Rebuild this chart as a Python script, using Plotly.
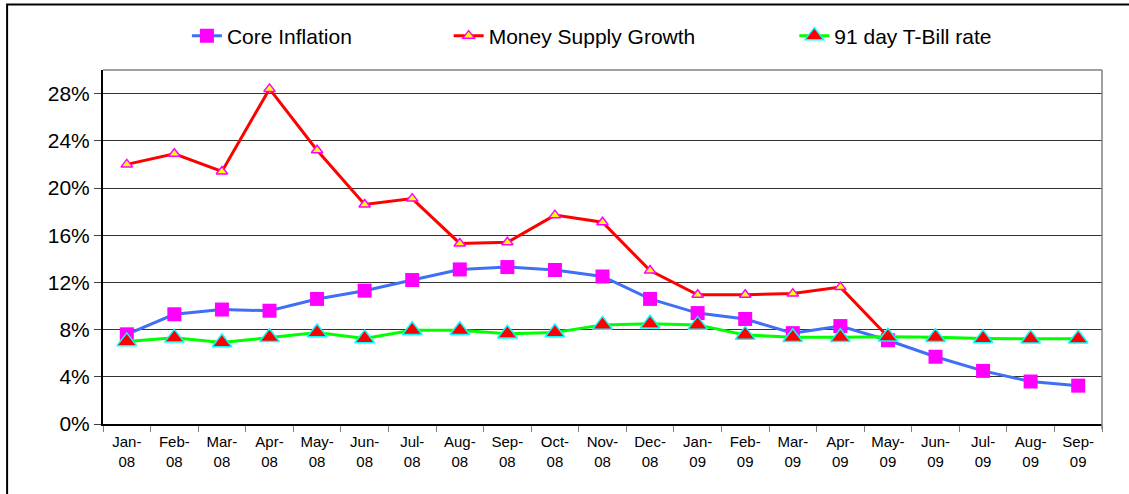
import plotly.graph_objects as go

months = ["Jan-<br>08", "Feb-<br>08", "Mar-<br>08", "Apr-<br>08", "May-<br>08", "Jun-<br>08",
          "Jul-<br>08", "Aug-<br>08", "Sep-<br>08", "Oct-<br>08", "Nov-<br>08", "Dec-<br>08",
          "Jan-<br>09", "Feb-<br>09", "Mar-<br>09", "Apr-<br>09", "May-<br>09", "Jun-<br>09",
          "Jul-<br>09", "Aug-<br>09", "Sep-<br>09"]

core_inflation = [7.6, 9.3, 9.7, 9.6, 10.6, 11.3, 12.2, 13.1, 13.3, 13.05, 12.5, 10.6,
                  9.4, 8.9, 7.7, 8.3, 7.1, 5.7, 4.5, 3.6, 3.25]
money_supply = [22.0, 22.9, 21.4, 28.4, 23.2, 18.6, 19.1, 15.3, 15.4, 17.7, 17.1, 13.0,
                10.95, 10.95, 11.05, 11.6, 7.4, None, None, None, None]
tbill_rate = [7.0, 7.3, 6.9, 7.35, 7.75, 7.25, 7.95, 7.95, 7.65, 7.75, 8.4, 8.5,
              8.4, 7.55, 7.35, 7.35, 7.4, 7.35, 7.25, 7.22, 7.22]

y_ticks = [0, 4, 8, 12, 16, 20, 24, 28]
y_tick_labels = ["0%", "4%", "8%", "12%", "16%", "20%", "24%", "28%"]

font_family = "Liberation Sans, Arial, sans-serif"

fig = go.Figure()

fig.add_trace(go.Scatter(
    x=months, y=core_inflation, name="Core Inflation", mode="lines+markers",
    line=dict(color="#3F6FF5", width=3),
    marker=dict(symbol="square", size=14, color="#FF00FF", line=dict(width=0)),
    legend="legend", showlegend=True,
))
fig.add_trace(go.Scatter(
    x=months, y=money_supply, name="Money Supply Growth", mode="lines+markers",
    line=dict(color="#FF0000", width=3),
    marker=dict(symbol="triangle-up", size=10, color="#FFFF00",
                line=dict(color="#FF00FF", width=1.5)),
    legend="legend2", showlegend=True,
))
fig.add_trace(go.Scatter(
    x=months, y=tbill_rate, name="91 day T-Bill rate", mode="lines+markers",
    line=dict(color="#00FF00", width=3),
    marker=dict(symbol="triangle-up", size=17, color="#FF0000",
                line=dict(color="#00FFFF", width=1.5)),
    legend="legend3", showlegend=True,
))

leg_common = dict(orientation="h", yanchor="middle", y=1.096, xanchor="left",
                  bgcolor="rgba(0,0,0,0)", font=dict(family=font_family, size=21, color="#000000"))

fig.update_layout(
    width=1129, height=494,
    margin=dict(l=103, r=27, t=70, b=70),
    showlegend=True,
    paper_bgcolor="#FFFFFF", plot_bgcolor="#FFFFFF",
    font=dict(family=font_family, color="#000000"),
    legend=dict(x=0.084, **leg_common),
    legend2=dict(x=0.346, **leg_common),
    legend3=dict(x=0.692, **leg_common),
    xaxis=dict(
        type="category", range=[-0.5, 20.5],
        tickson="boundaries", ticks="outside", ticklen=6, tickcolor="#808080", tickwidth=1,
        showline=True, linecolor="#000000", linewidth=2,
        showgrid=False, tickfont=dict(size=15, family=font_family, color="#000000"),
        tickangle=0, ticklabelstandoff=3,
    ),
    yaxis=dict(
        range=[0, 30], tickvals=y_ticks, ticktext=y_tick_labels,
        ticks="outside", ticklen=7, tickcolor="#404040",
        showline=True, linecolor="#000000", linewidth=2,
        showgrid=True, gridcolor="#333333", gridwidth=1,
        zeroline=False,
        tickfont=dict(size=21, family=font_family, color="#000000"),
    ),
    shapes=[
        dict(type="line", xref="paper", yref="paper", x0=0, x1=1, y0=1, y1=1,
             line=dict(color="#808080", width=1.5)),
        dict(type="line", xref="paper", yref="paper", x0=1, x1=1, y0=-0.015, y1=1,
             line=dict(color="#808080", width=1.5)),
        dict(type="rect", xref="paper", yref="paper", x0=-0.096, x1=1.2, y0=-0.3, y1=1.185,
             line=dict(color="#000000", width=2), fillcolor="rgba(0,0,0,0)", layer="below"),
    ],
)

fig.write_html(
    "out.html",
    config={"displayModeBar": False},
    post_script="document.body.style.margin='0';document.body.style.overflow='hidden';",
)
